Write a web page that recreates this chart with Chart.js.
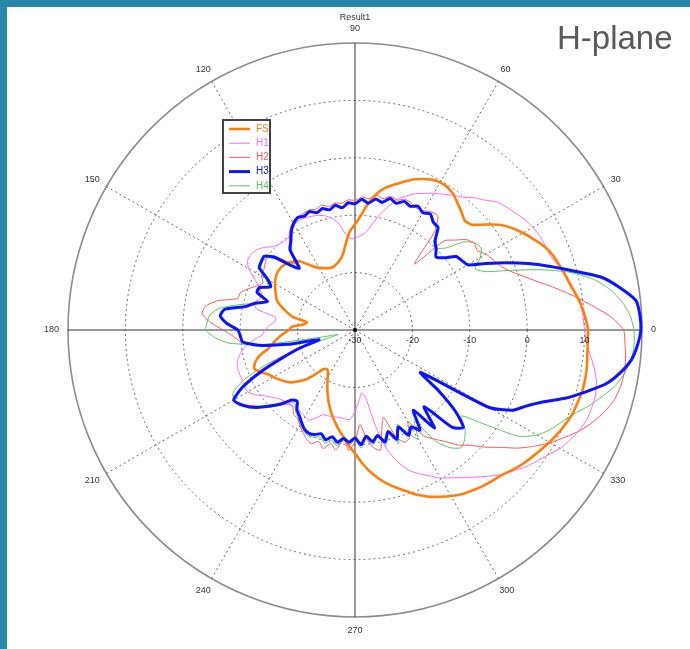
<!DOCTYPE html>
<html>
<head>
<meta charset="utf-8">
<script src="https://cdn.jsdelivr.net/npm/chart.js@4.4.1/dist/chart.umd.min.js"></script>
<style>
  html, body { margin: 0; padding: 0; background: #fff; }
  #page { position: relative; width: 690px; height: 649px; overflow: hidden; background: #fff; }
  #page canvas { position: absolute; left: 0; top: 0; }
  .bar { position: absolute; background: #2787a9; }
  #title { position: absolute; left: 557px; top: 19px; font: 33px "Liberation Sans", Arial, sans-serif; color: #5a5a5a; }
</style>
</head>
<body>
<div id="page">
  <canvas id="pattern" width="690" height="649"></canvas>
  <div class="bar" style="left:0;top:0;width:690px;height:7px"></div>
  <div class="bar" style="left:0;top:0;width:7px;height:649px"></div>
  <div id="title">H-plane</div>
</div>
<script>
(() => {
    'use strict';

    // angle grid in degrees, counter-clockwise from 0 (east)
    const angles = Array.from({ length: 120 }, (_, i) => i * 3);

    // gain in dB at each angle
    const fs = [
        10.6, 10.2, 9.7, 9.0, 8.3, 7.8, 7.3, 6.8, 6.0, 4.9,
        3.8, 2.6, 1.2, -0.8, -2.6, -3.0, -2.3, -1.6, -0.8, -0.4,
        -0.3, -0.6, -1.2, -1.9, -2.9, -3.8, -4.7, -6.0, -7.8, -10.0,
        -11.6, -12.8, -14.8, -16.6, -17.5, -18.0, -18.3, -18.4, -18.2, -17.9,
        -17.5, -16.8, -15.8, -14.6, -14.0, -13.5, -13.2, -13.1, -13.2, -13.5,
        -13.9, -14.4, -14.9, -15.4, -16.4, -17.6, -18.8, -21.5, -21.0, -19.0,
        -18.5, -17.5, -16.5, -15.6, -14.6, -12.8, -11.7, -11.2, -12.0, -13.0,
        -13.6, -14.2, -14.8, -15.5, -16.6, -17.8, -19.5, -21.2, -21.6, -21.4,
        -20.5, -19.4, -18.2, -17.0, -15.8, -14.6, -13.5, -12.3, -11.2, -9.8,
        -8.5, -6.8, -5.2, -3.8, -2.6, -1.5, -0.4, 0.8, 1.8, 2.6,
        3.4, 4.1, 4.6, 5.1, 5.5, 5.9, 6.6, 7.3, 7.9, 8.5,
        9.1, 9.7, 10.2, 10.6, 10.8, 11.0, 11.0, 10.9, 10.7, 10.6
    ];
    const h1 = [
        10.0, 9.8, 9.6, 9.1, 8.5, 7.9, 7.0, 6.4, 6.3, 6.1,
        5.8, 5.3, 4.6, 4.0, 3.3, 2.0, 1.0, -0.2, -1.0, -1.8,
        -2.5, -3.3, -4.0, -5.0, -6.0, -7.8, -9.5, -11.5, -13.0, -13.6,
        -14.0, -14.0, -13.0, -11.0, -10.0, -9.4, -9.0, -8.8, -8.6, -8.6,
        -8.8, -9.4, -10.2, -10.2, -10.0, -9.5, -8.5, -7.9, -7.6, -7.7,
        -8.6, -10.4, -11.6, -12.6, -12.5, -11.8, -12.5, -16.0, -16.0, -15.0,
        -14.3, -13.8, -12.0, -10.5, -9.5, -8.8, -8.5, -8.5, -8.5, -8.4,
        -8.4, -9.3, -10.5, -11.4, -12.1, -12.5, -12.8, -13.0, -13.0, -12.8,
        -12.6, -12.4, -13.2, -14.2, -14.3, -14.4, -14.5, -14.5, -14.4, -14.4,
        -15.8, -17.5, -19.0, -18.0, -13.0, -8.5, -5.8, -3.8, -2.6, -1.5,
        -0.2, 0.7, 1.8, 3.0, 4.3, 5.7, 6.8, 8.0, 9.0, 10.0,
        11.3, 12.1, 12.8, 13.3, 13.4, 13.4, 13.0, 12.2, 11.2, 10.4
    ];
    const h2 = [
        16.8, 14.6, 11.4, 8.4, 5.5, 2.8, 0.6, -1.2, -2.4, -3.0,
        -3.6, -4.6, -4.3, -5.0, -6.6, -8.0, -14.5, -8.0, -5.4, -5.5,
        -6.0, -6.2, -5.8, -5.6, -6.2, -5.9, -6.6, -6.2, -7.0, -6.8,
        -7.4, -7.3, -7.8, -7.6, -8.0, -7.5, -7.9, -7.6, -7.8, -7.9,
        -8.3, -9.2, -10.6, -11.8, -14.5, -13.0, -10.6, -10.2, -10.6, -11.0,
        -11.2, -12.0, -11.2, -10.0, -9.0, -8.8, -5.5, -3.6, -3.2, -4.8,
        -7.0, -8.8, -10.0, -13.0, -18.0, -22.0, -19.0, -15.0, -11.0, -7.6,
        -5.8, -6.4, -7.6, -8.8, -10.0, -11.4, -12.6, -12.8, -11.8, -11.6,
        -10.8, -10.0, -9.2, -8.8, -9.6, -8.6, -9.8, -8.8, -11.0, -9.0,
        -10.5, -13.5, -11.0, -9.2, -8.6, -12.0, -14.0, -10.0, -8.6, -9.0,
        -11.5, -8.0, -6.5, -5.0, -3.0, -1.6, 0.5, 2.5, 5.0, 7.2,
        9.3, 11.1, 13.0, 14.5, 15.8, 16.8, 17.3, 17.5, 17.4, 17.1
    ];
    const h3 = [
        19.8, 19.7, 19.2, 16.8, 14.0, 9.6, 5.8, 2.3, -1.2, -4.5,
        -7.3, -7.8, -8.2, -10.0, -11.0, -10.0, -9.2, -7.0, -6.8, -5.9,
        -6.4, -5.8, -6.4, -6.0, -6.8, -6.3, -7.3, -6.9, -7.8, -7.2,
        -8.0, -7.8, -8.6, -8.0, -8.6, -8.1, -8.5, -7.9, -8.3, -8.0,
        -8.6, -9.6, -11.0, -12.0, -15.5, -14.0, -11.0, -9.6, -9.8, -10.1,
        -12.5, -13.5, -11.8, -11.7, -14.0, -12.0, -10.4, -7.0, -6.4, -7.6,
        -9.6, -10.0, -10.3, -13.0, -18.0, -23.5, -20.0, -16.5, -12.0, -8.0,
        -5.6, -6.2, -7.2, -8.6, -10.2, -11.8, -13.6, -14.0, -12.8, -12.2,
        -11.4, -10.6, -10.3, -10.5, -11.0, -10.2, -11.0, -10.2, -11.0, -10.4,
        -11.2, -10.0, -11.4, -10.3, -11.2, -9.8, -11.4, -9.6, -11.5, -9.4,
        -10.5, -9.2, -12.7, -8.0, -12.0, -6.0, -4.6, -7.5, -12.0, -16.4,
        -3.0, 0.8, 2.6, 5.0, 8.5, 11.6, 14.8, 16.9, 18.5, 19.3
    ];
    const h4 = [
        18.6, 18.0, 16.8, 15.0, 12.5, 8.8, 4.0, -1.0, -5.0, -6.5,
        -4.8, -3.8, -4.2, -5.6, -8.6, -9.8, -8.8, -7.6, -6.6, -6.0,
        -6.4, -5.8, -6.2, -6.0, -6.6, -6.4, -7.0, -7.0, -7.5, -7.4,
        -7.9, -7.9, -8.4, -8.2, -8.5, -8.2, -8.4, -8.0, -8.2, -8.3,
        -8.8, -9.8, -11.2, -12.5, -14.0, -13.5, -11.5, -10.0, -10.0, -10.5,
        -12.0, -13.0, -12.0, -12.2, -13.6, -12.0, -9.0, -6.0, -4.6, -4.2,
        -4.0, -5.5, -8.0, -14.0, -24.0, -27.0, -20.0, -14.0, -9.0, -6.2,
        -5.6, -5.8, -7.4, -8.9, -10.6, -12.0, -13.2, -13.4, -12.4, -11.8,
        -11.0, -10.3, -9.8, -10.0, -10.4, -9.6, -10.4, -9.6, -10.6, -9.8,
        -10.8, -9.4, -11.0, -9.8, -11.0, -9.2, -11.0, -8.8, -12.0, -10.0,
        -8.0, -11.0, -6.0, -3.6, -2.4, -3.0, -4.2, -6.2, -2.0, 4.0,
        6.6, 8.2, 9.4, 10.8, 12.8, 14.6, 16.4, 17.6, 18.4, 18.7
    ];

    const angleTicks = [0, 30, 60, 90, 120, 150, 180, 210, 240, 270, 300, 330];
    const gainTicks = [-30, -20, -10, 0, 10];

    // the radar scale runs clockwise from its start angle, so walk the
    // angle grid backwards to keep 90 at the top and 180 on the left
    const order = angles.map((_, i) => (angles.length - i) % angles.length);
    const labels = order.map(k => String(angles[k]));
    const pick = arr => order.map(k => arr[k]);

    const series = [
        { label: 'FS', data: fs, color: '#ff7f0a', width: 2.6, order: 1 },
        { label: 'H1', data: h1, color: '#ff66ff', width: 1, order: 2 },
        { label: 'H2', data: h2, color: '#ff5555', width: 1, order: 2 },
        { label: 'H3', data: h3, color: '#0a14ff', width: 3, order: 0 },
        { label: 'H4', data: h4, color: '#55c955', width: 1, order: 2 }
    ];

    const textColor = '#333';
    const smallFont = '9px "Liberation Sans", Arial, sans-serif';

    // angle labels, gain labels, title and legend box
    const polarText = {
        id: 'polarText',
        afterDraw(chart) {
            const r = chart.scales.r;
            const c = chart.ctx;
            c.save();
            c.font = smallFont;
            c.fillStyle = textColor;
            c.textAlign = 'center';
            c.textBaseline = 'middle';

            angleTicks.forEach(a => {
                const idx = labels.indexOf(String(a));
                const p = r.getPointPosition(idx, r.drawingArea + 9);
                const ang = r.getIndexAngle(idx) - Math.PI / 2;
                const w = c.measureText(String(a)).width;
                c.fillText(String(a), p.x + Math.cos(ang) * w / 2, p.y + Math.sin(ang) * 5);
            });
            const top = r.getPointPosition(labels.indexOf('90'), r.drawingArea + 9);
            c.fillText('Result1', top.x, top.y - 16);

            gainTicks.forEach(v => {
                const d = r.getDistanceFromCenterForValue(v);
                c.fillText(String(v), r.xCenter + d, r.yCenter + 11);
            });

            // centre marker
            c.fillStyle = '#111';
            c.beginPath();
            c.arc(r.xCenter, r.yCenter, 2, 0, Math.PI * 2);
            c.fill();

            // legend
            const bx = 223, by = 120, bw = 47, bh = 73;
            c.fillStyle = '#fff';
            c.fillRect(bx, by, bw, bh);
            c.strokeStyle = '#444';
            c.lineWidth = 2;
            c.strokeRect(bx, by, bw, bh);
            c.font = '10px "Liberation Sans", Arial, sans-serif';
            c.textAlign = 'left';
            chart.data.datasets.forEach((ds, i) => {
                const y = by + 9 + i * 14.2;
                c.strokeStyle = ds.borderColor;
                c.lineWidth = ds.borderWidth;
                c.beginPath();
                c.moveTo(bx + 6, y);
                c.lineTo(bx + 27, y);
                c.stroke();
                c.fillStyle = ds.borderColor;
                c.fillText(ds.label, bx + 33, y);
            });
            c.restore();
        }
    };

    const ctx = document.getElementById('pattern').getContext('2d');
    // eslint-disable-next-line no-unused-vars
    const pattern = new Chart(ctx, {
        type: 'radar',
        data: {
            labels: labels,
            datasets: series.map(s => ({
                label: s.label,
                data: pick(s.data),
                borderColor: s.color,
                borderWidth: s.width,
                order: s.order,
                fill: false,
                pointRadius: 0,
                tension: 0.2
            }))
        },
        options: {
            responsive: false,
            animation: false,
            layout: {
                padding: { left: 68, top: 43, right: 48, bottom: 32 }
            },
            plugins: {
                legend: { display: false },
                tooltip: { enabled: false }
            },
            scales: {
                r: {
                    min: -30,
                    max: 20,
                    startAngle: 90,
                    ticks: { display: false, stepSize: 10 },
                    pointLabels: { display: false },
                    grid: {
                        circular: true,
                        color: c => (c.tick && c.tick.value === 20 ? '#8c8c8c' : '#666'),
                        lineWidth: c => (c.tick && c.tick.value === 20 ? 1.6 : 1)
                    },
                    border: {
                        dash: c => (c.tick && c.tick.value === 20 ? [] : [2, 3])
                    },
                    angleLines: {
                        color: c => (c.index % 30 === 0 ? '#333' : '#666'),
                        lineWidth: c => (c.index % 10 === 0 ? 1 : 0),
                        borderDash: c => (c.index % 30 === 0 ? [] : [2, 3])
                    }
                }
            }
        },
        plugins: [polarText]
    });
})();
</script>
</body>
</html>
